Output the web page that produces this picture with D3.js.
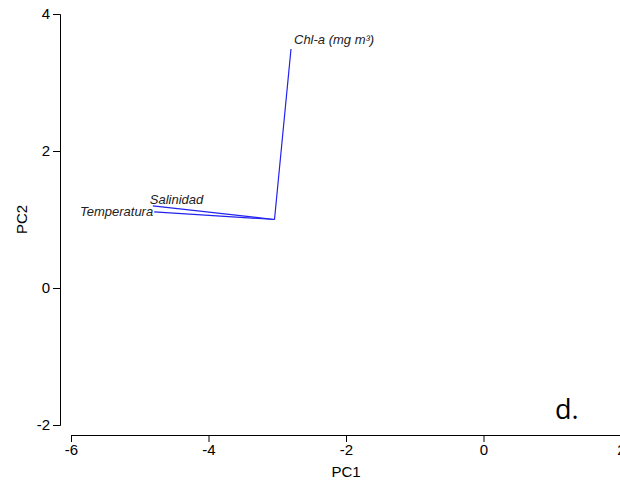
<!DOCTYPE html>
<html>
<head>
<meta charset="utf-8">
<script src="https://cdn.jsdelivr.net/npm/d3@7"></script>
<style>
  html, body { margin: 0; padding: 0; background: #fff; }
  svg text { font-family: "Liberation Sans", Arial, sans-serif; }
</style>
</head>
<body>
<svg id="chart" width="620" height="486"></svg>
<script>
// PCA loading vectors (biplot arrows from a common origin)
const origin = [-3.04, 1.0];
const variables = ["Chl-a (mg m³)", "Salinidad", "Temperatura"];
const pc1 = [-2.8, -4.81, -4.79];
const pc2 = [3.49, 1.20, 1.11];

const xTicks = [-6, -4, -2, 0, 2];
const yTicks = [-2, 0, 2, 4];

const svg = d3.select("#chart");

const x = d3.scaleLinear().domain([-6, 2]).range([71, 621]);
const y = d3.scaleLinear().domain([-2, 4]).range([425, 14]);

// Axes
const fmt = d => d < 0 ? "-" + Math.abs(d) : String(d);
const xAxis = svg.append("g")
  .attr("transform", "translate(0,435)")
  .call(d3.axisBottom(x).tickValues(xTicks).tickSize(7).tickPadding(2).tickFormat(fmt));
const yAxis = svg.append("g")
  .attr("transform", "translate(60,0)")
  .call(d3.axisLeft(y).tickValues(yTicks).tickSize(7).tickPadding(3).tickFormat(fmt));

[xAxis, yAxis].forEach(g => {
  g.select(".domain").attr("stroke", "#000").attr("stroke-width", 1);
  g.selectAll(".tick line").attr("stroke", "#000");
  g.selectAll(".tick text")
    .attr("fill", "#000")
    .style("font-size", "15px")
    .style("font-family", "Liberation Sans, Arial, sans-serif");
});

// Axis titles, centred on the plot region
svg.append("text")
  .attr("x", (x.range()[0] + x.range()[1]) / 2).attr("y", 477)
  .attr("text-anchor", "middle")
  .style("font-size", "15px")
  .text("PC1");
svg.append("text")
  .attr("transform", `translate(27,${(y.range()[0] + y.range()[1]) / 2}) rotate(-90)`)
  .attr("text-anchor", "middle")
  .style("font-size", "15px")
  .text("PC2");

// Loading vectors
const data = variables.map((v, i) => ({ name: v, x: pc1[i], y: pc2[i] }));
svg.append("g").selectAll("line")
  .data(data)
  .join("line")
  .attr("x1", x(origin[0])).attr("y1", y(origin[1]))
  .attr("x2", d => x(d.x)).attr("y2", d => y(d.y))
  .attr("stroke", "#2222ee")
  .attr("stroke-width", 1.2);

// Variable labels
const labelPos = {
  "Chl-a (mg m³)": { dx: 3, dy: -5, anchor: "start" },
  "Salinidad": { dx: -3, dy: -2, anchor: "start" },
  "Temperatura": { dx: -1, dy: 4, anchor: "end" }
};
svg.append("g").selectAll("text")
  .data(data)
  .join("text")
  .attr("x", d => x(d.x) + labelPos[d.name].dx)
  .attr("y", d => y(d.y) + labelPos[d.name].dy)
  .attr("text-anchor", d => labelPos[d.name].anchor)
  .style("font-size", "13px")
  .style("font-style", "italic")
  .attr("fill", "#222")
  .text(d => d.name);

// Panel tag
svg.append("text")
  .attr("x", 555).attr("y", 419)
  .style("font-family", "'Open Sans', 'Noto Sans', sans-serif")
  .style("font-size", "27px")
  .attr("fill", "#000")
  .text("d.");
</script>
</body>
</html>
